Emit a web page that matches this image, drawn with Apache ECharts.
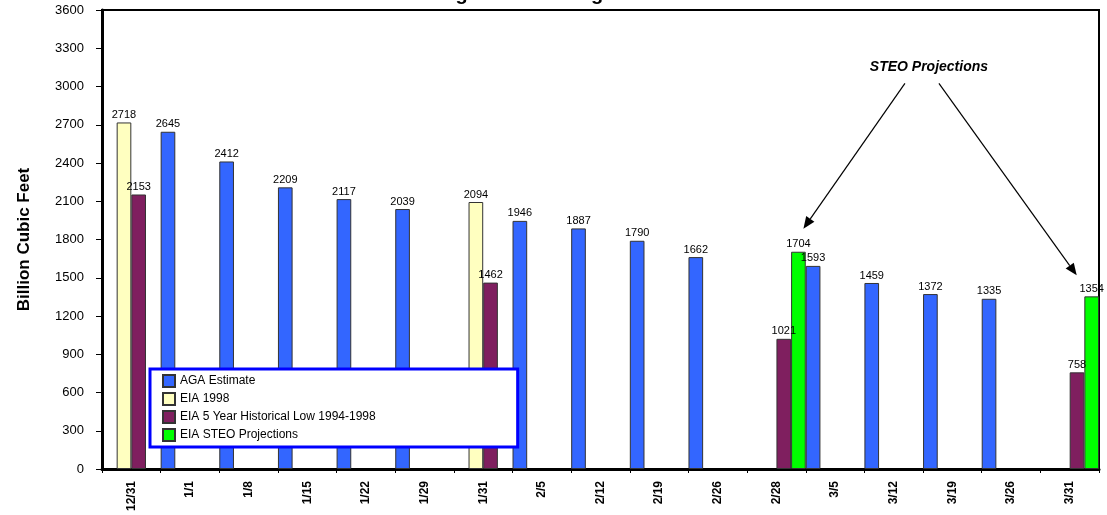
<!DOCTYPE html>
<html>
<head>
<meta charset="utf-8">
<script src="https://cdn.jsdelivr.net/npm/echarts@6/dist/echarts.min.js"></script>
<style>
html, body { margin: 0; padding: 0; background: #fff; }
#chart { width: 1107px; height: 515px; }
</style>
</head>
<body>
<div id="chart"></div>
<script>
// 储气量柱状图
const categories = ['12/31', '1/1', '1/8', '1/15', '1/22', '1/29', '1/31', '2/5', '2/12', '2/19', '2/26', '2/28', '3/5', '3/12', '3/19', '3/26', '3/31']
const agaEstimate = [null, 2645, 2412, 2209, 2117, 2039, null, 1946, 1887, 1790, 1662, null, 1593, 1459, 1372, 1335, null]
const eia1998 = [2718, null, null, null, null, null, 2094, null, null, null, null, null, null, null, null, null, null]
const eiaLow = [2153, null, null, null, null, null, 1462, null, null, null, null, 1021, null, null, null, null, 758]
const steo = [null, null, null, null, null, null, null, null, null, null, null, 1704, null, null, null, null, 1354]
const yTicks = [0, 300, 600, 900, 1200, 1500, 1800, 2100, 2400, 2700, 3000, 3300, 3600]

const names = ['AGA Estimate', 'EIA 1998', 'EIA 5 Year Historical Low 1994-1998', 'EIA STEO Projections']
const values = [agaEstimate, eia1998, eiaLow, steo]
const color = ['#3366ff', '#ffffc0', '#7f1f5f', '#00ff00']

const chart = echarts.init(document.getElementById('chart'), null, {width: 1107, height: 515})

let seriesArr = []
for (let i = 0; i < values.length; i++) {
    seriesArr.push({
        type: 'bar',
        name: names[i],
        data: values[i],
        barGap: '0%',
        barCategoryGap: '0%',
        itemStyle: {color: color[i], borderColor: '#333', borderWidth: 1},
        label: {
            show: true, position: 'top', distance: 2,
            color: '#000', fontSize: 11, fontFamily: 'Arial'
        }
    })
}

const option = {
    animation: false,
    backgroundColor: '#fff',
    title: {
        text: 'Working Gas in Storage',
        left: 388, top: -16, padding: 0,
        textStyle: {fontSize: 20, fontWeight: 'bold', fontFamily: 'Arial', color: '#000'}
    },
    grid: {
        left: 102, right: 8, top: 10, bottom: 46,
        show: true, borderColor: '#000', borderWidth: 2
    },
    legend: {
        orient: 'vertical',
        left: 150, top: 369,
        backgroundColor: '#fff',
        borderColor: '#0000ff', borderWidth: 3,
        padding: [5, 142, 5, 12],
        itemGap: 4,
        itemWidth: 12, itemHeight: 12,
        icon: 'rect',
        data: names,
        textStyle: {color: '#000', fontSize: 12, fontFamily: 'Arial'}
    },
    xAxis: {
        type: 'category',
        data: categories,
        axisLine: {lineStyle: {color: '#000', width: 3}},
        axisTick: {show: true, length: 4, lineStyle: {color: '#000'}},
        axisLabel: {
            rotate: 90, margin: 12, color: '#000',
            fontSize: 12, fontWeight: 'bold', fontFamily: 'Arial'
        }
    },
    yAxis: {
        type: 'value',
        min: 0, max: 3600, interval: 300,
        name: 'Billion Cubic Feet',
        nameLocation: 'middle',
        nameGap: 69,
        nameTextStyle: {color: '#000', fontSize: 17, fontWeight: 'bold', fontFamily: 'Arial'},
        axisLine: {show: true, lineStyle: {color: '#000', width: 3}},
        axisTick: {show: true, length: 6, lineStyle: {color: '#000'}},
        splitLine: {show: false},
        axisLabel: {
            margin: 18, color: '#000', fontSize: 13, fontFamily: 'Arial',
            formatter: function(v) { return yTicks.indexOf(v) >= 0 ? String(v) : '' }
        }
    },
    series: seriesArr
}
chart.setOption(option)

// 注释箭头 STEO Projections
const px = (cat, v) => chart.convertToPixel({xAxisIndex: 0, yAxisIndex: 0}, [cat, v])
const catW = px('1/1', 0)[0] - px('12/31', 0)[0]
const a = px('2/28', steo[11])
const b = px('3/31', steo[16])
const label = px('3/12', 3150)
const textPos = [label[0] + catW * 0.6, label[1]]
const tipL = [a[0] + catW * 0.46, a[1] - 23]
const tipR = [b[0] + catW * 0.12, b[1] - 21]
const tailL = [textPos[0] - 24, textPos[1] + 16]
const tailR = [textPos[0] + 10, textPos[1] + 16]

function arrow(from, to) {
    const dx = to[0] - from[0], dy = to[1] - from[1]
    const len = Math.sqrt(dx * dx + dy * dy)
    const ux = dx / len, uy = dy / len
    const hl = 12, hw = 5
    const base = [to[0] - ux * hl, to[1] - uy * hl]
    return [{
        type: 'line',
        shape: {x1: from[0], y1: from[1], x2: base[0], y2: base[1]},
        style: {stroke: '#000', lineWidth: 1.2}
    }, {
        type: 'polygon',
        shape: {points: [to, [base[0] - uy * hw, base[1] + ux * hw], [base[0] + uy * hw, base[1] - ux * hw]]},
        style: {fill: '#000'}
    }]
}

chart.setOption({
    graphic: [
        {
            type: 'text',
            x: textPos[0], y: textPos[1],
            style: {
                text: 'STEO Projections',
                fill: '#000',
                font: 'italic bold 14px Arial',
                align: 'center', verticalAlign: 'middle'
            }
        }
    ].concat(arrow(tailL, tipL)).concat(arrow(tailR, tipR))
})
</script>
</body>
</html>
